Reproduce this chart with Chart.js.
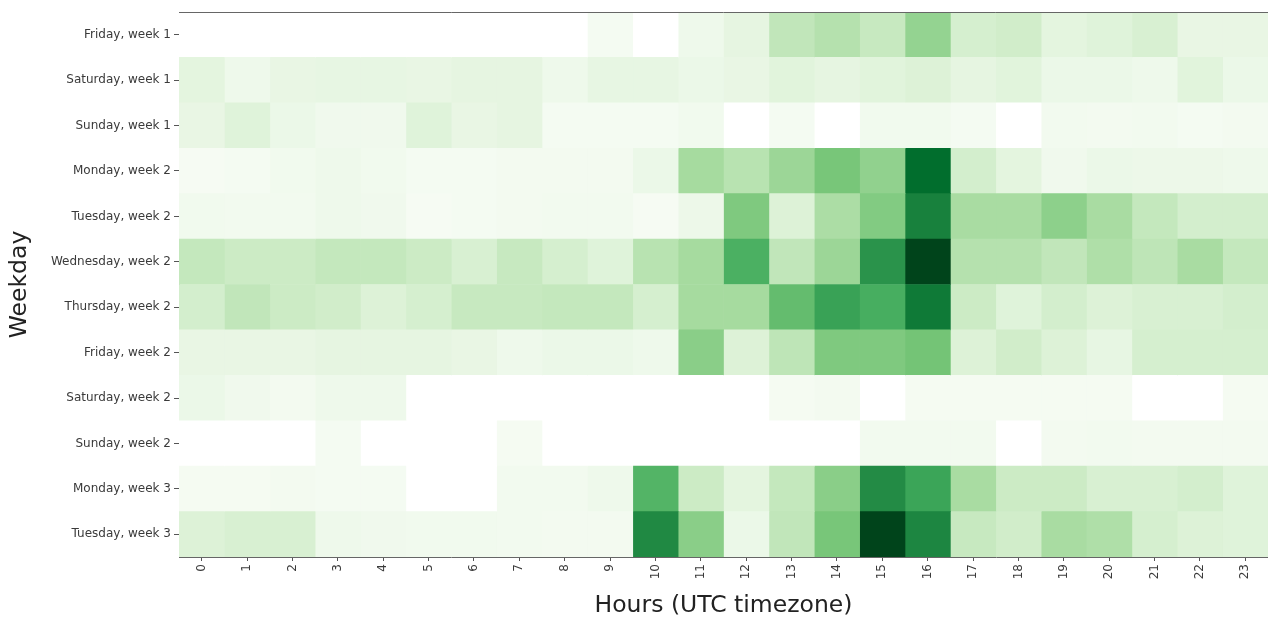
<!DOCTYPE html>
<html>
<head>
<meta charset="utf-8">
<script src="https://cdn.jsdelivr.net/npm/chart.js@4.4.0/dist/chart.umd.min.js"></script>
<style>
  html, body { margin: 0; padding: 0; background: #fff; }
  #wrap { width: 1268px; height: 621px; }
</style>
</head>
<body>
<div id="wrap"><canvas id="heatmap"></canvas></div>
<script>
// --- Data ---
const weekdays = [
    'Friday, week 1', 'Saturday, week 1', 'Sunday, week 1', 'Monday, week 2',
    'Tuesday, week 2', 'Wednesday, week 2', 'Thursday, week 2', 'Friday, week 2',
    'Saturday, week 2', 'Sunday, week 2', 'Monday, week 3', 'Tuesday, week 3'
];
const hours = ['0', '1', '2', '3', '4', '5', '6', '7', '8', '9', '10', '11',
    '12', '13', '14', '15', '16', '17', '18', '19', '20', '21', '22', '23'];

// activity per hour (null = no data, drawn white)
const fridayW1    = [null, null, null, null, null, null, null, null, null, 2, null, 6, 12, 27, 31, 25, 41, 19, 21, 13, 15, 18, 10, 10];
const saturdayW1  = [13, 6, 10, 11, 11, 10, 12, 12, 6, 11, 11, 8, 10, 14, 12, 14, 16, 12, 14, 8, 8, 6, 14, 8];
const sundayW1    = [10, 15, 8, 5, 5, 15, 10, 12, 2, 2, 2, 4, null, 2, null, 4, 4, 2, null, 3.5, 3, 3.5, 2, 3];
const mondayW2    = [1, 2, 4, 6, 4, 2, 2, 3, 3, 3, 8, 36, 30, 39, 49, 42, 87, 20, 13, 5, 8, 7, 7, 6];
const tuesdayW2   = [4, 3.5, 3.5, 6, 5, 1, 2, 3, 3.5, 3.5, 1, 7, 47, 16, 34, 46, 79, 35, 35, 43, 35, 26, 20, 20];
const wednesdayW2 = [26, 23, 23, 26, 26, 23, 18, 25, 19, 15, 30, 36, 60, 27, 39, 72, 100, 31, 31, 27, 33, 28, 35, 26];
const thursdayW2  = [20, 27, 23, 21, 16, 19, 25, 25, 26, 26, 19, 36, 36, 54, 66, 61, 82, 23, 15, 20, 16, 18, 18, 20];
const fridayW2    = [10, 10, 10, 12, 12, 12, 10, 6, 8, 8, 6, 44, 16, 28, 47, 47, 50, 16, 21, 16, 11, 19, 19, 19];
const saturdayW2  = [8, 5, 3, 6, 6, null, null, null, null, null, null, null, null, 1.5, 3, null, 1.5, 1.5, 1.5, 1.5, 1.5, null, null, 1.5];
const sundayW2    = [null, null, null, 2, null, null, null, 1.5, null, null, null, null, null, null, null, 3.5, 3.5, 3.5, null, 3, 3.5, 3, 3, 3];
const mondayW3    = [1.5, 1.5, 3, 2, 2, null, null, 3.5, 3.5, 6, 58, 23, 13, 26, 44, 75, 65, 35, 23, 23, 18, 18, 20, 15];
const tuesdayW3   = [16, 18, 18, 6, 5, 4, 4, 3.5, 3, 3, 76, 44, 8, 27, 49, 100, 77, 25, 21, 35, 33, 19, 16, 15];

const rows = [fridayW1, saturdayW1, sundayW1, mondayW2, tuesdayW2, wednesdayW2,
    thursdayW2, fridayW2, saturdayW2, sundayW2, mondayW3, tuesdayW3];
const vmax = 100;

// --- matplotlib "Greens" colormap ---
const greens = [
    [247, 252, 245], [229, 245, 224], [199, 233, 192], [161, 217, 155], [116, 196, 118],
    [65, 171, 93], [35, 139, 69], [0, 109, 44], [0, 68, 27]
];
function greenFor(v) {
    if (v === null || v === undefined) return '#ffffff';
    const t = Math.max(0, Math.min(1, v / vmax)) * (greens.length - 1);
    const i = Math.min(Math.floor(t), greens.length - 2);
    const f = t - i;
    const c = greens[i].map((a, k) => Math.round(a + (greens[i + 1][k] - a) * f));
    return `rgb(${c[0]}, ${c[1]}, ${c[2]})`;
}

// one dataset per hour column, one floating bar per weekday row
const datasets = hours.map((h, hi) => ({
    label: h,
    data: weekdays.map((d, ri) => ({ x: [hi, hi + 1], y: d, v: rows[ri][hi] })),
    backgroundColor: ctx => greenFor(ctx.raw ? ctx.raw.v : null),
    borderWidth: 0,
    barPercentage: 1,
    categoryPercentage: 1,
    grouped: false
}));

// top spine (matplotlib frame)
const frame = {
    id: 'frame',
    afterDraw(chart) {
        const { ctx, chartArea: a } = chart;
        ctx.save();
        ctx.strokeStyle = '#666';
        ctx.lineWidth = 1;
        ctx.beginPath();
        ctx.moveTo(a.left, a.top + 0.5);
        ctx.lineTo(a.right, a.top + 0.5);
        ctx.stroke();
        ctx.restore();
    }
};

const tickFont = { family: 'DejaVu Sans', size: 12 };
const titleFont = { family: 'DejaVu Sans', size: 23.5, lineHeight: 1 };

new Chart(document.getElementById('heatmap'), {
    type: 'bar',
    data: { labels: weekdays, datasets },
    options: {
        indexAxis: 'y',
        responsive: true,
        maintainAspectRatio: false,
        animation: false,
        layout: { padding: { left: 0, right: 0, top: 12, bottom: 0 } },
        plugins: {
            legend: { display: false },
            tooltip: {
                callbacks: {
                    title: items => items[0].label,
                    label: item => 'Hour ' + item.dataset.label + ': ' + (item.raw.v === null ? 'n/a' : item.raw.v)
                }
            }
        },
        scales: {
            x: {
                type: 'linear',
                min: 0,
                max: 24,
                afterBuildTicks: s => { s.ticks = hours.map((h, i) => ({ value: i + 0.5 })); },
                afterFit: s => { s.height = 64; },
                ticks: {
                    autoSkip: false,
                    maxRotation: 90,
                    minRotation: 90,
                    padding: 3,
                    color: '#3a3a3a',
                    font: tickFont,
                    callback: (v, i) => hours[i]
                },
                grid: { display: true, drawOnChartArea: false, drawTicks: true, tickLength: 4, color: '#555' },
                border: { display: true, color: '#666', width: 1 },
                title: { display: true, text: 'Hours (UTC timezone)', color: '#222', font: titleFont, padding: { top: 0, bottom: 3 } }
            },
            y: {
                type: 'category',
                afterFit: s => { s.width = 179; },
                ticks: { padding: 3, color: '#3a3a3a', font: tickFont, autoSkip: false },
                grid: { display: true, offset: false, drawOnChartArea: false, drawTicks: true, tickLength: 5, color: '#555' },
                border: { display: true, color: '#666', width: 1 },
                title: { display: true, text: 'Weekday', color: '#222', font: titleFont, padding: { top: 8, bottom: 0 } }
            }
        }
    },
    plugins: [frame]
});
</script>
</body>
</html>
